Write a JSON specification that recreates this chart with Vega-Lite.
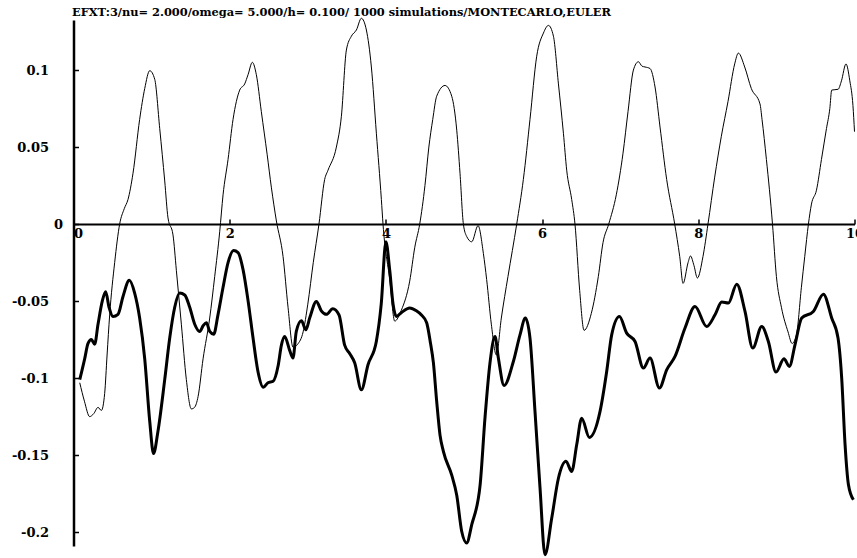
{
  "$schema": "https://vega.github.io/schema/vega-lite/v6.json",
  "width": 781,
  "height": 526,
  "autosize": {"type": "none"},
  "padding": {"left": 73.5, "top": 20, "right": 2.5, "bottom": 12},
  "background": "white",
  "title": {
    "text": "EFXT:3/nu= 2.000/omega= 5.000/h= 0.100/ 1000 simulations/MONTECARLO,EULER",
    "anchor": "start",
    "frame": "group",
    "font": "DejaVu Serif",
    "fontSize": 11.4,
    "fontWeight": "bold",
    "color": "black",
    "baseline": "alphabetic",
    "offset": 4,
    "dx": -1.5,
    "dy": 15
  },
  "config": {
    "view": {"stroke": null},
    "axis": {
      "domainColor": "black",
      "tickColor": "black",
      "labelColor": "black",
      "labelFont": "DejaVu Serif",
      "labelFontWeight": "bold",
      "labelFontSize": 13,
      "grid": false,
      "title": null
    }
  },
  "datasets": {
    "thin": [
      {"t":0.08,"v":-0.103},{"t":0.14,"v":-0.115},{"t":0.207,"v":-0.125},{"t":0.26,"v":-0.123},{"t":0.314,"v":-0.119},{"t":0.357,"v":-0.121},{"t":0.399,"v":-0.110},{"t":0.43,"v":-0.085},{"t":0.463,"v":-0.059},{"t":0.527,"v":-0.025},{"t":0.591,"v":0},{"t":0.65,"v":0.010},{"t":0.698,"v":0.016},{"t":0.762,"v":0.033},{"t":0.847,"v":0.068},{"t":0.912,"v":0.088},{"t":0.976,"v":0.0996},{"t":1.04,"v":0.094},{"t":1.104,"v":0.062},{"t":1.168,"v":0.028},{"t":1.21,"v":0.004},{"t":1.274,"v":-0.007},{"t":1.317,"v":-0.030},{"t":1.381,"v":-0.065},{"t":1.445,"v":-0.101},{"t":1.509,"v":-0.120},{"t":1.55,"v":-0.119},{"t":1.595,"v":-0.112},{"t":1.659,"v":-0.0875},{"t":1.744,"v":-0.061},{"t":1.808,"v":-0.034},{"t":1.872,"v":-0.005},{"t":1.915,"v":0.019},{"t":1.979,"v":0.042},{"t":2.043,"v":0.068},{"t":2.128,"v":0.087},{"t":2.192,"v":0.091},{"t":2.235,"v":0.097},{"t":2.29,"v":0.105},{"t":2.341,"v":0.097},{"t":2.405,"v":0.073},{"t":2.48,"v":0.045},{"t":2.533,"v":0.024},{"t":2.598,"v":0.002},{"t":2.683,"v":-0.021},{"t":2.747,"v":-0.054},{"t":2.811,"v":-0.080},{"t":2.87,"v":-0.078},{"t":2.94,"v":-0.070},{"t":3.0,"v":-0.052},{"t":3.07,"v":-0.025},{"t":3.143,"v":0},{"t":3.216,"v":0.029},{"t":3.259,"v":0.035},{"t":3.366,"v":0.050},{"t":3.43,"v":0.070},{"t":3.494,"v":0.113},{"t":3.558,"v":0.122},{"t":3.622,"v":0.126},{"t":3.686,"v":0.1336},{"t":3.75,"v":0.126},{"t":3.814,"v":0.102},{"t":3.878,"v":0.059},{"t":3.942,"v":0.016},{"t":3.963,"v":0},{"t":4.049,"v":-0.036},{"t":4.113,"v":-0.063},{"t":4.197,"v":-0.056},{"t":4.305,"v":-0.037},{"t":4.37,"v":-0.015},{"t":4.433,"v":0},{"t":4.5,"v":0.025},{"t":4.55,"v":0.050},{"t":4.6,"v":0.068},{"t":4.65,"v":0.083},{"t":4.757,"v":0.090},{"t":4.843,"v":0.083},{"t":4.907,"v":0.061},{"t":4.949,"v":0.033},{"t":4.992,"v":0},{"t":5.034,"v":-0.008},{"t":5.099,"v":-0.0115},{"t":5.18,"v":-0.001},{"t":5.248,"v":-0.019},{"t":5.29,"v":-0.036},{"t":5.35,"v":-0.065},{"t":5.414,"v":-0.085},{"t":5.478,"v":-0.061},{"t":5.563,"v":-0.034},{"t":5.675,"v":0},{"t":5.76,"v":0.029},{"t":5.845,"v":0.068},{"t":5.931,"v":0.109},{"t":6.017,"v":0.124},{"t":6.081,"v":0.129},{"t":6.145,"v":0.122},{"t":6.209,"v":0.091},{"t":6.273,"v":0.059},{"t":6.315,"v":0.035},{"t":6.379,"v":0.016},{"t":6.421,"v":0},{"t":6.481,"v":-0.043},{"t":6.537,"v":-0.069},{"t":6.63,"v":-0.058},{"t":6.72,"v":-0.034},{"t":6.78,"v":-0.012},{"t":6.853,"v":0},{"t":6.95,"v":0.019},{"t":7.036,"v":0.046},{"t":7.1,"v":0.073},{"t":7.169,"v":0.100},{"t":7.233,"v":0.1054},{"t":7.28,"v":0.1025},{"t":7.318,"v":0.102},{"t":7.382,"v":0.101},{"t":7.446,"v":0.089},{"t":7.51,"v":0.063},{"t":7.595,"v":0.029},{"t":7.698,"v":0},{"t":7.762,"v":-0.021},{"t":7.805,"v":-0.0385},{"t":7.869,"v":-0.025},{"t":7.9,"v":-0.0207},{"t":7.945,"v":-0.027},{"t":7.988,"v":-0.035},{"t":8.06,"v":-0.021},{"t":8.124,"v":0},{"t":8.21,"v":0.0305},{"t":8.295,"v":0.057},{"t":8.38,"v":0.0795},{"t":8.466,"v":0.104},{"t":8.513,"v":0.111},{"t":8.594,"v":0.102},{"t":8.679,"v":0.088},{"t":8.79,"v":0.078},{"t":8.816,"v":0.068},{"t":8.872,"v":0.042},{"t":8.95,"v":0},{"t":9.0,"v":-0.034},{"t":9.064,"v":-0.054},{"t":9.149,"v":-0.070},{"t":9.201,"v":-0.0775},{"t":9.256,"v":-0.072},{"t":9.32,"v":-0.041},{"t":9.363,"v":-0.021},{"t":9.41,"v":0},{"t":9.449,"v":0.013},{"t":9.513,"v":0.022},{"t":9.577,"v":0.042},{"t":9.641,"v":0.062},{"t":9.684,"v":0.075},{"t":9.708,"v":0.087},{"t":9.79,"v":0.0875},{"t":9.833,"v":0.093},{"t":9.891,"v":0.104},{"t":9.94,"v":0.093},{"t":9.98,"v":0.077},{"t":10.0,"v":0.06}
    ],
    "thick": [
      {"t":0.08,"v":-0.101},{"t":0.143,"v":-0.0875},{"t":0.186,"v":-0.0775},{"t":0.229,"v":-0.075},{"t":0.271,"v":-0.078},{"t":0.314,"v":-0.065},{"t":0.37,"v":-0.0497},{"t":0.412,"v":-0.044},{"t":0.455,"v":-0.054},{"t":0.506,"v":-0.060},{"t":0.57,"v":-0.0586},{"t":0.634,"v":-0.047},{"t":0.715,"v":-0.0365},{"t":0.784,"v":-0.045},{"t":0.847,"v":-0.061},{"t":0.912,"v":-0.0875},{"t":0.976,"v":-0.128},{"t":1.025,"v":-0.149},{"t":1.08,"v":-0.135},{"t":1.168,"v":-0.101},{"t":1.232,"v":-0.074},{"t":1.296,"v":-0.054},{"t":1.36,"v":-0.0448},{"t":1.424,"v":-0.046},{"t":1.488,"v":-0.054},{"t":1.552,"v":-0.065},{"t":1.616,"v":-0.0697},{"t":1.66,"v":-0.066},{"t":1.702,"v":-0.064},{"t":1.744,"v":-0.0697},{"t":1.795,"v":-0.0715},{"t":1.851,"v":-0.0586},{"t":1.915,"v":-0.041},{"t":1.979,"v":-0.025},{"t":2.05,"v":-0.0172},{"t":2.107,"v":-0.0185},{"t":2.171,"v":-0.0296},{"t":2.235,"v":-0.0497},{"t":2.299,"v":-0.074},{"t":2.363,"v":-0.096},{"t":2.43,"v":-0.106},{"t":2.49,"v":-0.103},{"t":2.556,"v":-0.102},{"t":2.62,"v":-0.092},{"t":2.662,"v":-0.0786},{"t":2.704,"v":-0.073},{"t":2.768,"v":-0.082},{"t":2.81,"v":-0.087},{"t":2.853,"v":-0.0697},{"t":2.918,"v":-0.0628},{"t":2.975,"v":-0.0686},{"t":3.024,"v":-0.061},{"t":3.11,"v":-0.0502},{"t":3.173,"v":-0.0563},{"t":3.238,"v":-0.0586},{"t":3.32,"v":-0.055},{"t":3.4,"v":-0.059},{"t":3.472,"v":-0.0786},{"t":3.536,"v":-0.084},{"t":3.6,"v":-0.090},{"t":3.686,"v":-0.1076},{"t":3.771,"v":-0.0913},{"t":3.878,"v":-0.076},{"t":3.94,"v":-0.052},{"t":4.0,"v":-0.0115},{"t":4.049,"v":-0.030},{"t":4.092,"v":-0.052},{"t":4.134,"v":-0.060},{"t":4.197,"v":-0.0575},{"t":4.305,"v":-0.0545},{"t":4.39,"v":-0.0563},{"t":4.455,"v":-0.059},{"t":4.522,"v":-0.064},{"t":4.57,"v":-0.077},{"t":4.608,"v":-0.090},{"t":4.65,"v":-0.115},{"t":4.693,"v":-0.137},{"t":4.736,"v":-0.1476},{"t":4.843,"v":-0.163},{"t":4.907,"v":-0.176},{"t":4.971,"v":-0.1996},{"t":5.034,"v":-0.207},{"t":5.1,"v":-0.195},{"t":5.205,"v":-0.170},{"t":5.27,"v":-0.125},{"t":5.333,"v":-0.090},{"t":5.397,"v":-0.073},{"t":5.44,"v":-0.087},{"t":5.513,"v":-0.1048},{"t":5.632,"v":-0.0892},{"t":5.717,"v":-0.0719},{"t":5.786,"v":-0.061},{"t":5.845,"v":-0.074},{"t":5.909,"v":-0.1216},{"t":5.973,"v":-0.171},{"t":6.037,"v":-0.2147},{"t":6.123,"v":-0.191},{"t":6.209,"v":-0.165},{"t":6.306,"v":-0.154},{"t":6.379,"v":-0.1606},{"t":6.443,"v":-0.1433},{"t":6.507,"v":-0.126},{"t":6.605,"v":-0.1385},{"t":6.742,"v":-0.1216},{"t":6.827,"v":-0.0957},{"t":6.891,"v":-0.0719},{"t":6.99,"v":-0.06},{"t":7.083,"v":-0.0708},{"t":7.19,"v":-0.0762},{"t":7.297,"v":-0.0935},{"t":7.382,"v":-0.087},{"t":7.502,"v":-0.1065},{"t":7.595,"v":-0.0946},{"t":7.702,"v":-0.0859},{"t":7.83,"v":-0.0675},{"t":7.958,"v":-0.0535},{"t":8.107,"v":-0.0665},{"t":8.214,"v":-0.0589},{"t":8.3,"v":-0.0506},{"t":8.385,"v":-0.0513},{"t":8.492,"v":-0.039},{"t":8.598,"v":-0.0567},{"t":8.697,"v":-0.0805},{"t":8.812,"v":-0.0665},{"t":8.897,"v":-0.0762},{"t":8.995,"v":-0.0961},{"t":9.097,"v":-0.0875},{"t":9.166,"v":-0.0924},{"t":9.238,"v":-0.0784},{"t":9.324,"v":-0.061},{"t":9.473,"v":-0.0567},{"t":9.602,"v":-0.0455},{"t":9.708,"v":-0.061},{"t":9.789,"v":-0.074},{"t":9.836,"v":-0.100},{"t":9.879,"v":-0.143},{"t":9.922,"v":-0.169},{"t":9.986,"v":-0.179}
    ]
  },
  "encoding": {
    "x": {
      "field": "t", "type": "quantitative",
      "scale": {"domain": [0, 10], "nice": false, "zero": false},
      "axis": {
        "values": [0, 2, 4, 6, 8, 10],
        "offset": -322,
        "tickSize": -5,
        "tickWidth": 1.5,
        "domainWidth": 1.8,
        "labelPadding": 8,
        "labelAlign": {"condition": {"test": "datum.value == 0", "value": "left"}, "value": "center"},
        "labelExpr": "toString(datum.value)"
      }
    },
    "y": {
      "field": "v", "type": "quantitative",
      "scale": {"domain": [-0.209, 0.1325], "nice": false, "zero": false},
      "axis": {
        "values": [-0.2, -0.15, -0.1, -0.05, 0, 0.05, 0.1],
        "tickSize": -5,
        "tickWidth": 1.5,
        "domainWidth": 2.5,
        "labelPadding": {"condition": {"test": "datum.value == 0", "value": 16}, "value": 30},
        "labelExpr": "toString(datum.value)"
      }
    }
  },
  "layer": [
    {
      "data": {"name": "thin"},
      "mark": {"type": "line", "color": "black", "strokeWidth": 1, "interpolate": "monotone"}
    },
    {
      "data": {"name": "thick"},
      "mark": {"type": "line", "color": "black", "strokeWidth": 3, "interpolate": "monotone"}
    }
  ]
}
